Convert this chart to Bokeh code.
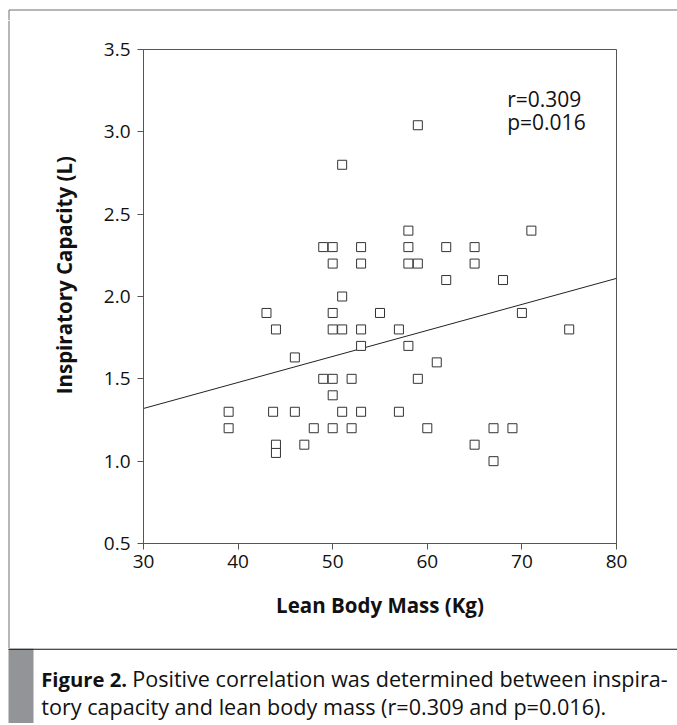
from bokeh.plotting import figure
from bokeh.layouts import column, row
from bokeh.models import Label, Range1d, FixedTicker
from bokeh.core.properties import value
from bokeh.embed import file_html
from bokeh.resources import INLINE

# ---- data ----
lean_body_mass = [39, 39, 43, 44, 43.7, 44, 44, 46, 46, 47, 48, 49, 49, 50, 50, 50, 50, 50, 50, 50,
                  51, 51, 51, 51, 52, 52, 53, 53, 53, 53, 53, 55, 57, 57, 58, 58, 58, 58, 59, 59,
                  59, 60, 61, 62, 62, 65, 65, 65, 67, 67, 68, 69, 70, 71, 75]
inspiratory_capacity = [1.3, 1.2, 1.9, 1.8, 1.3, 1.1, 1.05, 1.63, 1.3, 1.1, 1.2, 2.3, 1.5, 2.3, 2.2,
                        1.9, 1.8, 1.5, 1.4, 1.2, 2.8, 2.0, 1.8, 1.3, 1.5, 1.2, 2.3, 2.2, 1.8, 1.7,
                        1.3, 1.9, 1.8, 1.3, 2.4, 2.3, 2.2, 1.7, 3.04, 2.2, 1.5, 1.2, 1.6, 2.3, 2.1,
                        2.3, 2.2, 1.1, 1.2, 1.0, 2.1, 1.2, 1.9, 2.4, 1.8]
fit_x = [30, 80]
fit_y = [1.32, 2.11]
x_ticks = [30, 40, 50, 60, 70, 80]
y_ticks = [0.5, 1.0, 1.5, 2.0, 2.5, 3.0, 3.5]
y_tick_labels = ["0.5", "1.0", "1.5", "2.0", "2.5", "3.0", "3.5"]
stat_lines = ["r=0.309", "p=0.016"]
x_title = "Lean Body Mass (Kg)"
y_title = "Inspiratory Capacity (L)"
caption_bold = "Figure 2."
caption_line1 = "Positive correlation was determined between inspira-"
caption_line2 = "tory capacity and lean body mass (r=0.309 and p=0.016)."

FONT = "Open Sans"
TXT = "#111111"
FRAME = "#6e6e6e"
W = 677
STRIP_W = 10
TOP_H = 20
CHART_H = 628
CAP_H = 75


def no_align(f):
    try:
        f.frame_align = False
    except Exception:
        pass
    return f


def blank(width, height, xr, yr):
    f = figure(width=width, height=height, output_backend="svg", toolbar_location=None,
               x_range=xr, y_range=yr, min_border=0, title=None,
               x_axis_location=None, y_axis_location=None)
    f.grid.visible = False
    f.outline_line_color = None
    f.background_fill_color = "white"
    f.border_fill_color = "white"
    return no_align(f)


# outer frame: top line (with corner) and left line
top = blank(W, TOP_H, Range1d(0, W), Range1d(0, TOP_H))
top.line([8.5, 8.5, W], [0, TOP_H - 9.5, TOP_H - 9.5], line_color=FRAME, line_width=1)
left = blank(STRIP_W, CHART_H, Range1d(0, STRIP_W), Range1d(0, CHART_H))
left.line([8.5, 8.5], [0, CHART_H], line_color=FRAME, line_width=1)

# ---- the chart ----
p = figure(width=W - STRIP_W, height=CHART_H, output_backend="svg", toolbar_location=None,
           x_range=Range1d(30, 80), y_range=Range1d(0.5, 3.5), title=None,
           min_border_left=133, min_border_right=61, min_border_top=29,
           min_border_bottom=105)
no_align(p)
p.grid.visible = False
p.outline_line_color = "#555555"
p.outline_line_width = 1
p.outline_line_alpha = 1.0
p.background_fill_color = "white"
p.border_fill_color = "white"

for ax in (p.xaxis[0], p.yaxis[0]):
    ax.axis_line_color = "#555555"
    ax.major_tick_line_color = "#555555"
    ax.major_tick_out = 6
    ax.major_tick_in = 0
    ax.minor_tick_line_color = None
    ax.major_label_text_font = FONT
    ax.major_label_text_font_size = "19px"
    ax.major_label_text_color = TXT
    ax.axis_label_text_font = FONT
    ax.axis_label_text_font_style = "bold"
    ax.axis_label_text_font_size = "20.5px"
    ax.axis_label_text_color = TXT
    ax.major_label_standoff = 7

p.xaxis.ticker = FixedTicker(ticks=x_ticks)
p.yaxis.ticker = FixedTicker(ticks=y_ticks)
p.yaxis.major_label_overrides = {t: s for t, s in zip(y_ticks, y_tick_labels)}
p.xaxis.axis_label = x_title
p.yaxis.axis_label = "\u00a0" * 8 + y_title
p.xaxis.axis_label_standoff = 20
p.yaxis.axis_label_standoff = 23
p.xaxis.major_label_standoff = 5

p.line(fit_x, fit_y, line_color="#222222", line_width=1)
p.scatter(lean_body_mass, inspiratory_capacity, marker="square", size=9,
          fill_color="white", line_color="#333333", line_width=1)

p.add_layout(Label(x=68.45, y=3.201, text=stat_lines[0], text_font=FONT,
                   text_font_size="21px", text_color=TXT, text_baseline="alphabetic"))
p.add_layout(Label(x=68.45, y=3.060, text=stat_lines[1], text_font=FONT,
                   text_font_size="21px", text_color=TXT, text_baseline="alphabetic"))

# ---- caption block (y measured downward from the separator) ----
cap = blank(W, CAP_H, Range1d(0, W), Range1d(CAP_H, 0))
cap.quad(left=8, right=33, top=0, bottom=CAP_H, fill_color="#929497", line_color=None)
cap.line([8, W], [0.6, 0.6], line_color="#111111", line_width=1.3)
cap.text(x=[40.7], y=[30], text=[caption_bold], text_font=value(FONT), text_font_style="bold",
         text_font_size="20.3px", text_color=TXT, text_baseline="alphabetic")
cap.text(x=[131.7], y=[30], text=[caption_line1], text_font=value(FONT),
         text_font_size="21.6px", text_color=TXT, text_baseline="alphabetic")
cap.text(x=[40.7], y=[58], text=[caption_line2], text_font=value(FONT),
         text_font_size="21.6px", text_color=TXT, text_baseline="alphabetic")

layout = column(top, row(left, p, spacing=0), cap, spacing=0)
open("out.html", "w").write(file_html(layout, INLINE))
